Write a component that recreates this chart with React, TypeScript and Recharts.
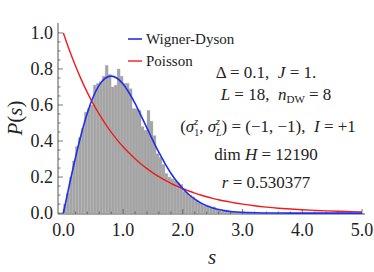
import React from "react";
import { ComposedChart, BarChart, Bar, Line, XAxis, YAxis } from "recharts";

// level spacing histogram (bin centres, bin width 0.05)
const histS = [
  0.025, 0.075, 0.125, 0.175, 0.225, 0.275, 0.325, 0.375, 0.425, 0.475,
  0.525, 0.575, 0.625, 0.675, 0.725, 0.775, 0.825, 0.875, 0.925, 0.975,
  1.025, 1.075, 1.125, 1.175, 1.225, 1.275, 1.325, 1.375, 1.425, 1.475,
  1.525, 1.575, 1.625, 1.675, 1.725, 1.775, 1.825, 1.875, 1.925, 1.975,
  2.025, 2.075, 2.125, 2.175, 2.225, 2.275, 2.325, 2.375, 2.425, 2.475,
  2.525, 2.575, 2.625, 2.675, 2.725, 2.775, 2.825, 2.875, 2.925, 2.975,
];
const histP = [
  0.05, 0.11, 0.2, 0.29, 0.37, 0.42, 0.47, 0.56, 0.58, 0.6,
  0.71, 0.72, 0.73, 0.76, 0.82, 0.77, 0.7, 0.71, 0.8, 0.76,
  0.72, 0.72, 0.69, 0.58, 0.58, 0.57, 0.48, 0.46, 0.57, 0.51,
  0.43, 0.33, 0.31, 0.27, 0.22, 0.2, 0.19, 0.18, 0.17, 0.16,
  0.12, 0.11, 0.1, 0.09, 0.07, 0.06, 0.05, 0.04, 0.035, 0.03,
  0.035, 0.02, 0.015, 0.012, 0.01, 0.012, 0.008, 0.006, 0.008, 0.004,
];

// reference curves
const curveS = [
  0, 0.1, 0.2, 0.3, 0.4, 0.5, 0.6, 0.7, 0.8, 0.9, 1.0, 1.1, 1.2, 1.3, 1.4,
  1.5, 1.6, 1.7, 1.8, 1.9, 2.0, 2.1, 2.2, 2.3, 2.4, 2.5, 2.6, 2.7, 2.8, 2.9,
  3.0, 3.2, 3.4, 3.6, 3.8, 4.0, 4.2, 4.4, 4.6, 4.8, 5.0,
];
const wignerDyson = [
  0, 0.1558, 0.3045, 0.4391, 0.5541, 0.6454, 0.7102, 0.7483, 0.7603, 0.7485,
  0.7162, 0.6678, 0.6083, 0.5412, 0.4719, 0.4026, 0.3364, 0.2762, 0.2214,
  0.1752, 0.1357, 0.1033, 0.0773, 0.0568, 0.0408, 0.0289, 0.0202, 0.0138,
  0.0093, 0.0062, 0.004, 0.0016, 0.0006, 0.0002, 0, 0, 0, 0, 0, 0, 0,
];
const poisson = [
  1, 0.9048, 0.8187, 0.7408, 0.6703, 0.6065, 0.5488, 0.4966, 0.4493, 0.4066,
  0.3679, 0.3329, 0.3012, 0.2725, 0.2466, 0.2231, 0.2019, 0.1827, 0.1653,
  0.1496, 0.1353, 0.1225, 0.1108, 0.1003, 0.0907, 0.0821, 0.0743, 0.0672,
  0.0608, 0.055, 0.0498, 0.0408, 0.0334, 0.0273, 0.0224, 0.0183, 0.015,
  0.0123, 0.0101, 0.0082, 0.0067,
];

const xTickLabels = [0, 1, 2, 3, 4, 5];
const yTickLabels = [0, 0.2, 0.4, 0.6, 0.8, 1.0];

const xTicks = Array.from({ length: 26 }, (_, i) => +(i * 0.2).toFixed(2));
const yTicks = Array.from({ length: 21 }, (_, i) => +(i * 0.05).toFixed(2));

const histData = histS.map((s, i) => ({ s, hist: histP[i] }));
const curveData = curveS.map((s, i) => ({ s, wd: wignerDyson[i], poi: poisson[i] }));

const X_DOMAIN: [number, number] = [-0.09, 5.05];
const Y_DOMAIN: [number, number] = [-0.005, 1.055];
const W = 374;
const H = 272;
const M = { top: 23, right: 9, left: 58, bottom: 58 };

const FONT = "Liberation Serif";
const TXT = { fontFamily: FONT };
const FRAME = "#555";
const BLUE = "#1f2ef0";
const RED = "#ee1c1c";
const SP = "\u00a0";

const isMajor = (v: number, list: number[]) => list.some((t) => Math.abs(t - v) < 1e-6);

const BottomTick = (props: any) => {
  const { x, y, payload } = props;
  const major = isMajor(payload.value, xTickLabels);
  return (
    <g>
      <line x1={x} x2={x} y1={y} y2={y - (major ? 5 : 2.5)} stroke={FRAME} strokeWidth={0.8} />
      {major && (
        <text x={x} y={y + 22} textAnchor="middle" style={TXT} fontSize={18} fill="#222">
          {payload.value.toFixed(1)}
        </text>
      )}
    </g>
  );
};

const TopTick = (props: any) => {
  const { x, y, payload } = props;
  const major = isMajor(payload.value, xTickLabels);
  return <line x1={x} x2={x} y1={y} y2={y + (major ? 5 : 2.5)} stroke={FRAME} strokeWidth={0.8} />;
};

const LeftTick = (props: any) => {
  const { x, y, payload } = props;
  const major = isMajor(payload.value, yTickLabels);
  return (
    <g>
      <line x1={x} x2={x + (major ? 5 : 2.5)} y1={y} y2={y} stroke={FRAME} strokeWidth={0.8} />
      {major && (
        <text x={x - 5} y={y + 6} textAnchor="end" style={TXT} fontSize={18} fill="#222">
          {payload.value.toFixed(1)}
        </text>
      )}
    </g>
  );
};

const RightTick = (props: any) => {
  const { x, y, payload } = props;
  const major = isMajor(payload.value, yTickLabels);
  return <line x1={x} x2={x - (major ? 5 : 2.5)} y1={y} y2={y} stroke={FRAME} strokeWidth={0.8} />;
};

if (typeof document !== "undefined") document.body.style.margin = "0";

export default function App() {
  return (
    <div style={{ position: "relative", width: W, height: H, background: "#fff" }}>
      <BarChart width={W} height={H} data={histData} margin={{ top: M.top, right: M.right, left: 0, bottom: 0 }} barCategoryGap={0}>
        <XAxis dataKey="s" type="number" domain={X_DOMAIN} allowDataOverflow ticks={xTicks} interval={0}
          height={M.bottom} tickSize={0} tickMargin={0} tick={<BottomTick />} axisLine={{ stroke: FRAME }} />
        <XAxis xAxisId="top" dataKey="s" type="number" orientation="top" domain={X_DOMAIN} allowDataOverflow
          ticks={xTicks} interval={0} height={0} tickSize={0} tickMargin={0} tick={<TopTick />} axisLine={{ stroke: FRAME }} />
        <YAxis type="number" domain={Y_DOMAIN} allowDataOverflow ticks={yTicks} interval={0} width={M.left}
          tickSize={0} tickMargin={0} tick={<LeftTick />} axisLine={{ stroke: FRAME }} />
        <YAxis yAxisId="right" type="number" orientation="right" domain={Y_DOMAIN} allowDataOverflow ticks={yTicks}
          interval={0} width={0} tickSize={0} tickMargin={0} tick={<RightTick />} axisLine={{ stroke: FRAME }} />
        <Bar dataKey="hist" fill="#a4a4a4" stroke="#b8b8b8" strokeWidth={0.3} isAnimationActive={false} />
        <Bar xAxisId="top" yAxisId="right" dataKey="hist" fill="none" isAnimationActive={false} />
      </BarChart>
      <div style={{ position: "absolute", left: 0, top: 0 }}>
        <ComposedChart width={W} height={H} data={curveData} margin={M}>
          <XAxis dataKey="s" type="number" domain={X_DOMAIN} allowDataOverflow hide />
          <YAxis type="number" domain={Y_DOMAIN} allowDataOverflow hide />
          <Line dataKey="poi" type="monotone" stroke={RED} strokeWidth={1.4} dot={false} isAnimationActive={false} />
          <Line dataKey="wd" type="monotone" stroke={BLUE} strokeWidth={1.6} dot={false} isAnimationActive={false} />
        </ComposedChart>
      </div>
      <svg width={W} height={H} style={{ position: "absolute", left: 0, top: 0, pointerEvents: "none" }}>
        <g fill="#222">
          <line x1={128} x2={142} y1={39} y2={39} stroke={BLUE} strokeWidth={1.6} />
          <text x={146} y={44} fontSize={15} style={TXT}>Wigner-Dyson</text>
          <line x1={128} x2={142} y1={61} y2={61} stroke={RED} strokeWidth={1.4} />
          <text x={146} y={66} fontSize={15} style={TXT}>Poisson</text>

          <text x={266} y={78} fontSize={17} textAnchor="middle" style={TXT}>
            Δ = 0.1,{SP}{SP}<tspan fontStyle="italic">J</tspan> = 1.
          </text>
          <text x={276} y={100} fontSize={17} textAnchor="middle" style={TXT}>
            <tspan fontStyle="italic">L</tspan> = 18,{SP}{SP}<tspan fontStyle="italic">n</tspan>
            <tspan fontSize={11} dy={3}>DW</tspan>
            <tspan dy={-3}> = 8</tspan>
          </text>
          <text x={268} y={132} fontSize={17} textAnchor="middle" style={TXT}>
            (<tspan fontStyle="italic">σ</tspan>
            <tspan fontSize={10} fontStyle="italic" dy={-7}>z</tspan>
            <tspan fontSize={10} dx={-4} dy={11}>1</tspan>
            <tspan dy={-4}>,{SP}</tspan>
            <tspan fontStyle="italic">σ</tspan>
            <tspan fontSize={10} fontStyle="italic" dy={-7}>z</tspan>
            <tspan fontSize={10} fontStyle="italic" dx={-4} dy={11}>L</tspan>
            <tspan dy={-4}>) = (−1,{SP}−1),{SP}{SP}</tspan>
            <tspan fontStyle="italic">I</tspan> = +1
          </text>
          <text x={266} y={160} fontSize={17} textAnchor="middle" style={TXT}>
            dim <tspan fontStyle="italic">H</tspan> = 12190
          </text>
          <text x={266} y={188} fontSize={17} textAnchor="middle" style={TXT}>
            <tspan fontStyle="italic">r</tspan> = 0.530377
          </text>

          <text x={212} y={264} fontSize={21} fontStyle="italic" textAnchor="middle" style={TXT}>s</text>
          <text x={22} y={118} fontSize={21} textAnchor="middle" transform="rotate(-90 22 118)" style={TXT}>
            <tspan fontStyle="italic">P</tspan>(<tspan fontStyle="italic">s</tspan>)
          </text>
        </g>
      </svg>
    </div>
  );
}
